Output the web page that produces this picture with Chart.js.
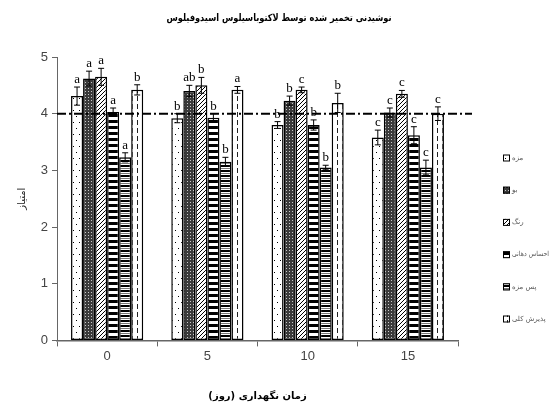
<!DOCTYPE html>
<html><head><meta charset="utf-8">
<script src="https://cdn.jsdelivr.net/npm/chart.js@4.4.0/dist/chart.umd.min.js"></script>
<style>html,body{margin:0;padding:0;background:#fff}</style>
</head><body>
<canvas id="c" width="550" height="410"></canvas>
<script>
// ---- data ----
const categories = ['0', '5', '10', '15'];
const seriesNames = ['مزه', 'بو', 'رنگ', 'احساس دهانی', 'پس مزه', 'پذیرش کلی'];
const mazeh    = [4.31, 3.92, 3.80, 3.58];
const boo      = [4.62, 4.40, 4.23, 4.02];
const rang     = [4.65, 4.50, 4.42, 4.35];
const ehsas    = [4.03, 3.93, 3.80, 3.62];
const pasMazeh = [3.23, 3.15, 3.05, 3.05];
const paziresh = [4.42, 4.42, 4.19, 4.00];
const errMazeh    = [0.16, 0.08, 0.06, 0.13];
const errBoo      = [0.13, 0.10, 0.08, 0.08];
const errRang     = [0.15, 0.14, 0.05, 0.06];
const errEhsas    = [0.07, 0.07, 0.09, 0.15];
const errPasMazeh = [0.08, 0.08, 0.04, 0.13];
const errPaziresh = [0.09, 0.06, 0.17, 0.12];
const letMazeh    = ['a', 'b', 'b', 'c'];
const letBoo      = ['a', 'ab', 'b', 'c'];
const letRang     = ['a', 'b', 'c', 'c'];
const letEhsas    = ['a', 'b', 'b', 'c'];
const letPasMazeh = ['a', 'b', 'b', 'c'];
const letPaziresh = ['b', 'a', 'b', 'c'];
const refLineValue = 4;
const yTickValues = [0, 1, 2, 3, 4, 5];
const chartTitle = 'نوشیدنی تخمیر شده توسط لاکتوباسیلوس اسیدوفیلوس';
const xTitle = 'زمان نگهداری (روز)';
const yTitle = 'امتیاز';

// ---- patterns ----
function pat(w, h, draw) {
  const c = document.createElement('canvas'); c.width = w; c.height = h;
  const g = c.getContext('2d'); g.fillStyle = '#fff'; g.fillRect(0, 0, w, h); draw(g);
  return document.getElementById('c').getContext('2d').createPattern(c, 'repeat');
}
const patterns = [
  pat(6, 12, g => { g.fillStyle = '#000'; g.fillRect(1, 2, 1, 1); g.fillRect(4, 8, 1, 1); }),
  pat(3, 3, g => { g.fillStyle = '#3a3a3a'; g.fillRect(0, 0, 3, 3); g.fillStyle = '#c8c8c8'; g.fillRect(1, 1, 1, 1); }),
  pat(4, 4, g => { g.fillStyle = '#000'; for (let i = 0; i < 4; i++) g.fillRect(i, 3 - i, 1, 1); }),
  pat(1, 6, g => { g.fillStyle = '#000'; g.fillRect(0, 0, 1, 3); }),
  pat(1, 5, g => { g.fillStyle = '#000'; g.fillRect(0, 0, 1, 2); g.fillStyle = '#777'; g.fillRect(0, 3, 1, 1); }),
  pat(5, 8, g => { g.fillStyle = '#222'; g.fillRect(2, 0, 1, 5); })
];

const values = [mazeh, boo, rang, ehsas, pasMazeh, paziresh];
const errors = [errMazeh, errBoo, errRang, errEhsas, errPasMazeh, errPaziresh];
const letters = [letMazeh, letBoo, letRang, letEhsas, letPasMazeh, letPaziresh];

const extras = {
  id: 'extras',
  afterDatasetsDraw(chart) {
    const ctx = chart.ctx, ys = chart.scales.y, area = chart.chartArea;
    ctx.save();
    // error bars + letters
    chart.data.datasets.forEach((ds, di) => {
      const meta = chart.getDatasetMeta(di);
      meta.data.forEach((el, i) => {
        const v = ds.data[i], e = errors[di][i];
        const yt = ys.getPixelForValue(v + e), yb = ys.getPixelForValue(v - e);
        ctx.strokeStyle = '#000'; ctx.lineWidth = 1;
        ctx.beginPath();
        ctx.moveTo(el.x, yt); ctx.lineTo(el.x, yb);
        ctx.moveTo(el.x - 3, yt); ctx.lineTo(el.x + 3, yt);
        ctx.moveTo(el.x - 3, yb); ctx.lineTo(el.x + 3, yb);
        ctx.stroke();
        ctx.fillStyle = '#000';
        ctx.font = '13px "Liberation Serif", serif';
        ctx.textAlign = 'center'; ctx.textBaseline = 'bottom';
        ctx.fillText(letters[di][i], el.x, yt - 1);
      });
    });
    // reference line
    const yr = ys.getPixelForValue(refLineValue);
    ctx.strokeStyle = '#000'; ctx.lineWidth = 2; ctx.setLineDash([9, 3, 2, 3]);
    ctx.beginPath(); ctx.moveTo(area.left, yr); ctx.lineTo(area.right + 14, yr); ctx.stroke();
    ctx.setLineDash([]);
    // legend
    ctx.font = '7px "DejaVu Sans", sans-serif';
    ctx.textAlign = 'left'; ctx.textBaseline = 'middle';
    chart.data.datasets.forEach((ds, di) => {
      const cy = 158 + di * 32.2, bx = 503;
      ctx.fillStyle = patterns[di]; ctx.fillRect(bx, cy - 3.5, 7, 7);
      ctx.strokeStyle = '#000'; ctx.lineWidth = 1; ctx.strokeRect(bx + 0.5, cy - 3, 6, 6);
      ctx.fillStyle = '#555'; ctx.fillText(ds.label, bx + 9, cy, 37);
    });
    // title
    ctx.font = 'bold 10px "DejaVu Sans", sans-serif';
    ctx.fillStyle = '#000'; ctx.textAlign = 'center'; ctx.textBaseline = 'middle';
    ctx.fillText(chartTitle, 279, 18, 225);
    ctx.restore();
  }
};

new Chart(document.getElementById('c'), {
  type: 'bar',
  data: {
    labels: categories,
    datasets: seriesNames.map((n, i) => ({
      label: n, data: values[i], backgroundColor: patterns[i],
      borderColor: '#000', borderWidth: 1.5, borderSkipped: false,
      categoryPercentage: 0.72, barPercentage: 1.0
    }))
  },
  options: {
    responsive: false, animation: false, devicePixelRatio: 1,
    layout: { padding: { left: 0, right: 92, top: 57, bottom: 8 } },
    plugins: {
      legend: { display: false },
      tooltip: { enabled: false },
      title: { display: false }
    },
    scales: {
      x: {
        offset: true,
        grid: { display: true, drawOnChartArea: false, offset: true, tickLength: 6, color: '#666' },
        border: { display: true, color: '#666', width: 1.5 },
        ticks: { color: '#444', font: { family: '"Liberation Sans Narrow", "Liberation Sans", sans-serif', size: 13 }, padding: 2 },
        title: { display: true, text: xTitle, color: '#000', font: { family: '"DejaVu Sans", sans-serif', size: 10, weight: 'bold' }, padding: { top: 24, bottom: 0 } }
      },
      y: {
        min: 0, max: 5,
        afterBuildTicks: s => { s.ticks = yTickValues.map(v => ({ value: v })); },
        afterFit: s => { s.width = 57; },
        grid: { display: true, drawOnChartArea: false, tickLength: 5, color: '#666' },
        border: { display: true, color: '#666', width: 1 },
        ticks: { color: '#444', font: { family: '"Liberation Sans Narrow", "Liberation Sans", sans-serif', size: 13 }, padding: 4 },
        title: { display: true, text: yTitle, color: '#222', font: { family: '"DejaVu Sans", sans-serif', size: 10 }, padding: { top: 16, bottom: 0 } }
      }
    }
  },
  plugins: [extras]
});
</script>
</body></html>
